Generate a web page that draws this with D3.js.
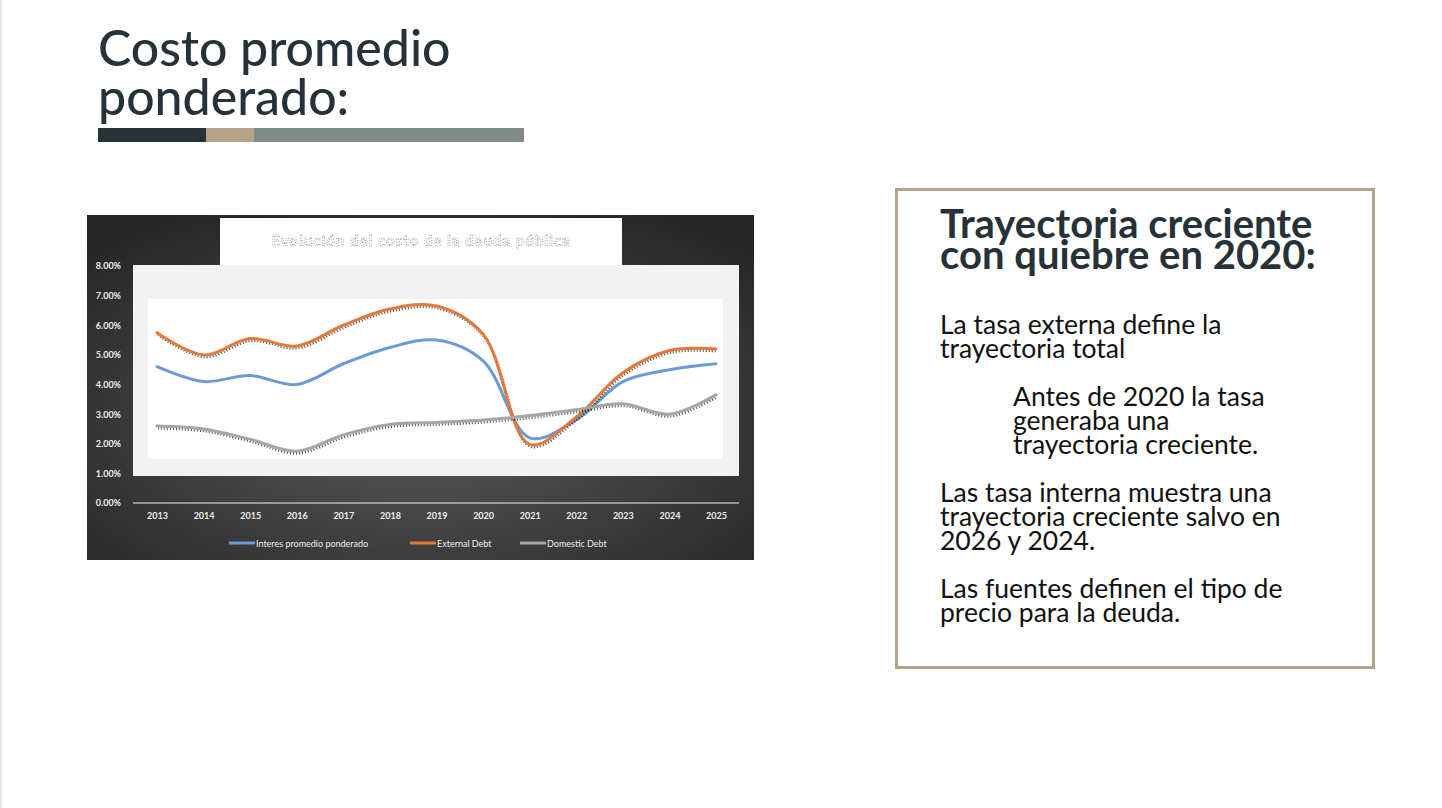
<!DOCTYPE html>
<html><head><meta charset="utf-8">
<script src="https://cdn.jsdelivr.net/npm/d3@7/dist/d3.min.js"></script>
<style>body{margin:0;background:#fff;}svg{display:block;font-family:Lato,"Open Sans",sans-serif;}</style>
</head><body>
<svg id="s" width="1442" height="808"></svg>
<script>
const years = [2013,2014,2015,2016,2017,2018,2019,2020,2021,2022,2023,2024,2025];
const interesPromedio = [4.6,4.1,4.3,4.0,4.7,5.25,5.5,4.8,2.2,2.8,4.1,4.5,4.7];
const externalDebt = [5.75,5.0,5.55,5.3,6.0,6.55,6.65,5.7,1.98,2.9,4.4,5.15,5.2];
const domesticDebt = [2.6,2.5,2.15,1.75,2.3,2.65,2.72,2.8,2.95,3.15,3.35,3.0,3.65];
const yTicks = [0,1,2,3,4,5,6,7,8];
const seriesNames = ["Interes promedio ponderado","External Debt","Domestic Debt"];
const colors = ["#6a9bd4","#e5793a","#a6a6a6"];

const svg = d3.select("#s");
svg.append("rect").attr("x",0).attr("y",0).attr("width",2).attr("height",808).attr("fill","#e6e6e6");
const h = svg.append("text").attr("fill","#263238").attr("font-size",50).attr("font-weight",500).attr("font-family","Lato");
h.append("tspan").attr("x",98).attr("y",66).text("Costo promedio");
h.append("tspan").attr("x",98).attr("y",115).text("ponderado:");
[[98,206,"#263236"],[206,254,"#b3a38b"],[254,524,"#7f8a89"]].forEach(d=>svg.append("rect").attr("x",d[0]).attr("y",128).attr("width",d[1]-d[0]).attr("height",14).attr("fill",d[2]));

const defs = svg.append("defs");
const g = defs.append("radialGradient").attr("id","bg").attr("cx","0.5").attr("cy","0.6").attr("r","0.7");
g.append("stop").attr("offset","0").attr("stop-color","#595959");
g.append("stop").attr("offset","1").attr("stop-color","#262626");
svg.append("rect").attr("x",87).attr("y",215).attr("width",667).attr("height",345).attr("fill","url(#bg)");
svg.append("rect").attr("x",220).attr("y",218).attr("width",402).attr("height",48).attr("fill","#fff");
svg.append("text").attr("x",421).attr("y",246).attr("text-anchor","middle").attr("font-size",15).attr("font-weight","bold")
  .attr("fill","#fff").attr("stroke","#333").attr("stroke-width",0.5).attr("stroke-dasharray","1,1.5").attr("letter-spacing",1).text("Evolución del costo de la deuda pública");
svg.append("rect").attr("x",133).attr("y",265).attr("width",606).attr("height",211).attr("fill","#f2f2f2");
svg.append("rect").attr("x",148).attr("y",299).attr("width",575).attr("height",160).attr("fill","#fff");

const x = d3.scalePoint().domain(years).range([157,716]);
const y = d3.scaleLinear().domain([0,8]).range([503,266]);
svg.append("line").attr("x1",133).attr("x2",739).attr("y1",y(0)).attr("y2",y(0)).attr("stroke","#f2f2f2").attr("stroke-width",1.2);
const ya = svg.append("g").attr("transform","translate(124,0)").call(d3.axisLeft(y).tickValues(yTicks).tickSize(0).tickFormat(d=>d.toFixed(2)+"%"));
ya.select(".domain").remove();
ya.selectAll("text").attr("fill","#eee").attr("font-size",9).attr("font-family","Lato").attr("font-weight","bold");
const xa = svg.append("g").attr("transform","translate(0,510)").call(d3.axisBottom(x).tickSize(0));
xa.select(".domain").remove();
xa.selectAll("text").attr("fill","#eee").attr("font-size",9).attr("font-family","Lato").attr("font-weight","bold");

const line = d3.line().x((d,i)=>x(years[i])).y(d=>y(d)).curve(d3.curveCatmullRom.alpha(0.5));
[interesPromedio,externalDebt,domesticDebt].forEach((s,i)=>{
  if(i>0) svg.append("path").attr("d",line(s)).attr("fill","none").attr("stroke","#000").attr("stroke-width",3).attr("stroke-dasharray","1,2").attr("transform","translate(1,2)").attr("opacity",0.7);
  svg.append("path").attr("d",line(s)).attr("fill","none").attr("stroke",colors[i]).attr("stroke-width",3).attr("stroke-linecap","round");
});
const lx=[229,410,520];
seriesNames.forEach((n,i)=>{
  svg.append("line").attr("x1",lx[i]).attr("x2",lx[i]+26).attr("y1",543).attr("y2",543).attr("stroke",colors[i]).attr("stroke-width",3);
  svg.append("text").attr("x",lx[i]+27).attr("y",547).attr("font-size",9).attr("fill","#eee").attr("font-family","Lato").text(n);
});

svg.append("rect").attr("x",896.5).attr("y",189.5).attr("width",477).attr("height",478).attr("fill","#fff").attr("stroke","#b3a38b").attr("stroke-width",3);
const t = svg.append("text").attr("fill","#263238").attr("font-size",40).attr("font-weight","bold").attr("font-family","Lato");
t.append("tspan").attr("x",940).attr("y",238).text("Trayectoria creciente");
t.append("tspan").attr("x",940).attr("y",269).text("con quiebre en 2020:");
const body=[[940,334,"La tasa externa define la"],[940,358,"trayectoria total"],[1013,406,"Antes de 2020 la tasa"],[1013,430,"generaba una"],[1013,454,"trayectoria creciente."],
[940,502,"Las tasa interna muestra una"],[940,526,"trayectoria creciente salvo en"],[940,550,"2026 y 2024."],[940,598,"Las fuentes definen el tipo de"],[940,622,"precio para la deuda."]];
body.forEach(b=>svg.append("text").attr("x",b[0]).attr("y",b[1]).attr("font-size",26.5).attr("fill","#111").attr("font-family","Lato").text(b[2]));
</script>
</body></html>
